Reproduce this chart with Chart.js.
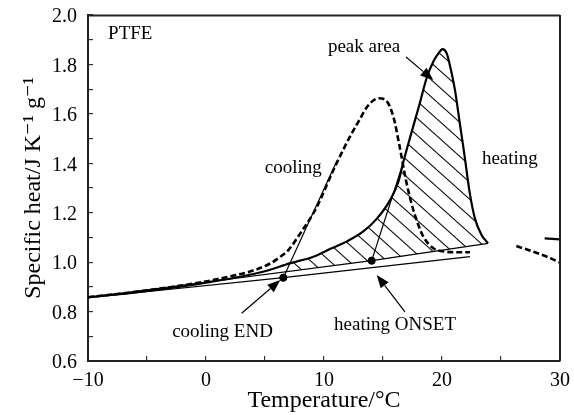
<!DOCTYPE html>
<html><head><meta charset="utf-8">
<script src="https://cdn.jsdelivr.net/npm/chart.js@4.4.0/dist/chart.umd.min.js"></script>
<style>html,body{margin:0;padding:0;background:#fff}#wrap{width:574px;height:415px}</style>
</head><body><div id="wrap"><canvas id="c" width="574" height="415"></canvas></div>
<script>
// ---- data (temperature in °C, specific heat in J K^-1 g^-1) ----
const heatT  = [-10,-6,-2,0,3,5,7.1,9.1,10.5,11.9,13.3,14.5,15.6,16.3,16.75,17.3,18.1,18.7,19.3,19.7,20.05,20.4,20.7,21.1,21.5,21.9,22.35,22.8,23.35,23.9];
const heatCp = [0.858,0.878,0.902,0.917,0.942,0.963,0.995,1.022,1.053,1.083,1.123,1.177,1.251,1.325,1.41,1.505,1.64,1.745,1.815,1.845,1.862,1.845,1.79,1.696,1.565,1.435,1.28,1.175,1.11,1.076];
const heatT2  = [28.7, 30];
const heatCp2 = [1.096, 1.092];
const coolT  = [-10,-6,-2,0,2,4,5.5,6.3,7.0,8.0,9.4,10.8,12.2,13.0,13.6,14.2,14.65,15.3,15.9,16.44,17.0,17.57,18.0,18.42,19.27,20.4,21.3,22.37];
const coolCp = [0.858,0.88,0.906,0.922,0.942,0.966,0.996,1.022,1.05,1.117,1.224,1.373,1.508,1.575,1.625,1.655,1.663,1.652,1.585,1.46,1.319,1.211,1.15,1.103,1.056,1.042,1.04,1.04];
const coolT2  = [26.3, 27.7, 28.9, 30];
const coolCp2 = [1.065, 1.043, 1.022, 0.998];
const heatBaseT  = [-10, 14.04, 23.9];
const heatBaseCp = [0.857, 1.006, 1.076];
const coolBaseT  = [-10, 6.55, 22.37];
const coolBaseCp = [0.856, 0.937, 1.022];
const coolTanT  = [6.55, 11.1];
const coolTanCp = [0.937, 1.41];
const heatTanT  = [14.04, 16.7];
const heatTanCp = [1.006, 1.40];
const markT  = [6.55, 14.04];
const markCp = [0.937, 1.006];
const hatchFrom = 7.1;

const xTicks = [-10, 0, 10, 20, 30];
const xTickText = ['\u221210', '0', '10', '20', '30'];
const yTicks = [0.6, 0.8, 1.0, 1.2, 1.4, 1.6, 1.8, 2.0];
const yTickText = ['0.6', '0.8', '1.0', '1.2', '1.4', '1.6', '1.8', '2.0'];

const notes = [
  {text: 'PTFE', x: -8.3, y: 1.925, align: 'left'},
  {text: 'peak area', x: 13.39, y: 1.87},
  {text: 'cooling', x: 7.4, y: 1.379},
  {text: 'heating', x: 25.75, y: 1.419},
  {text: 'cooling END', x: 1.4, y: 0.719},
  {text: 'heating ONSET', x: 16.02, y: 0.744}
];
const arrows = [
  {from: [16.95, 1.830], to: [19.26, 1.737]},
  {from: [3.02, 0.793], to: [6.3, 0.928]},
  {from: [16.86, 0.799], to: [14.47, 0.948]}
];

// ---- helpers ----
const pts = (xs, ys) => xs.map((x, i) => ({x: x, y: ys[i]}));
function lbl(list, text, v) {
  const i = list.findIndex(t => Math.abs(t - v) < 1e-6);
  return i >= 0 ? text[i] : '';
}
function hatchPattern() {
  const w = 19, h = 17;
  const c = document.createElement('canvas');
  c.width = w; c.height = h;
  const g = c.getContext('2d');
  g.strokeStyle = '#111'; g.lineWidth = 1.1;
  for (const k of [-1, 0, 1]) {
    g.beginPath(); g.moveTo(0, k * h); g.lineTo(w, (k + 1) * h); g.stroke();
  }
  return g.createPattern(c, 'repeat');
}

const SERIF = "'Liberation Serif', 'Times New Roman', 'DejaVu Serif', serif";
Chart.defaults.font.family = SERIF;
Chart.defaults.color = '#000';

const framePlugin = {
  id: 'frame',
  afterDraw(chart) {
    const {ctx, chartArea: a} = chart;
    ctx.save();
    ctx.strokeStyle = '#222'; ctx.lineWidth = 2;
    ctx.beginPath();
    ctx.moveTo(a.left, a.top + 0.5); ctx.lineTo(a.right, a.top + 0.5);
    ctx.moveTo(a.right, a.top); ctx.lineTo(a.right, a.bottom);
    ctx.stroke();
    ctx.restore();
  }
};

const notesPlugin = {
  id: 'notes',
  afterDatasetsDraw(chart) {
    const {ctx, scales: {x, y}} = chart;
    ctx.save();
    ctx.fillStyle = '#000'; ctx.strokeStyle = '#000';
    ctx.font = '19px ' + SERIF;
    ctx.textBaseline = 'middle';
    notes.forEach(n => {
      ctx.textAlign = n.align || 'center';
      ctx.fillText(n.text, x.getPixelForValue(n.x), y.getPixelForValue(n.y));
    });
    arrows.forEach(a => {
      const x1 = x.getPixelForValue(a.from[0]), y1 = y.getPixelForValue(a.from[1]);
      const x2 = x.getPixelForValue(a.to[0]), y2 = y.getPixelForValue(a.to[1]);
      const ang = Math.atan2(y2 - y1, x2 - x1), L = 13, W = 5;
      const bx = x2 - L * Math.cos(ang), by = y2 - L * Math.sin(ang);
      ctx.lineWidth = 1.2;
      ctx.beginPath(); ctx.moveTo(x1, y1); ctx.lineTo(bx, by); ctx.stroke();
      ctx.beginPath(); ctx.moveTo(x2, y2);
      ctx.lineTo(bx - W * Math.sin(ang), by + W * Math.cos(ang));
      ctx.lineTo(bx + W * Math.sin(ang), by - W * Math.cos(ang));
      ctx.closePath(); ctx.fill();
    });
    ctx.restore();
  }
};

const lineBase = {pointRadius: 0, borderColor: '#000', fill: false, xAxisID: 'x', yAxisID: 'y'};
const heatPts = pts(heatT, heatCp);

new Chart(document.getElementById('c'), {
  type: 'line',
  data: {
    datasets: [
      Object.assign({}, lineBase, {label: 'heating', data: heatPts, borderWidth: 2.2, cubicInterpolationMode: 'monotone', order: 1}),
      Object.assign({}, lineBase, {label: 'heating (cont.)', data: pts(heatT2, heatCp2), borderWidth: 2.2, order: 1}),
      Object.assign({}, lineBase, {label: 'cooling', data: pts(coolT, coolCp), borderWidth: 2.6, borderDash: [6, 3], cubicInterpolationMode: 'monotone', order: 1}),
      Object.assign({}, lineBase, {label: 'cooling (cont.)', data: pts(coolT2, coolCp2), borderWidth: 2.6, borderDash: [6, 3], cubicInterpolationMode: 'monotone', order: 1}),
      Object.assign({}, lineBase, {label: 'heating baseline', data: pts(heatBaseT, heatBaseCp), borderWidth: 1.2, order: 2}),
      Object.assign({}, lineBase, {label: 'cooling baseline', data: pts(coolBaseT, coolBaseCp), borderWidth: 1.2, order: 2}),
      Object.assign({}, lineBase, {label: 'cooling tangent', data: pts(coolTanT, coolTanCp), borderWidth: 1.2, order: 2}),
      Object.assign({}, lineBase, {label: 'heating tangent', data: pts(heatTanT, heatTanCp), borderWidth: 1.2, order: 2}),
      Object.assign({}, lineBase, {label: 'peak area', data: heatPts.filter(p => p.x >= hatchFrom), borderWidth: 0, cubicInterpolationMode: 'monotone',
        fill: 4, backgroundColor: hatchPattern(), order: 3}),
      Object.assign({}, lineBase, {label: 'END / ONSET', data: pts(markT, markCp), showLine: false, pointRadius: 3.6,
        pointBackgroundColor: '#000', pointBorderColor: '#000', order: 0})
    ]
  },
  options: {
    responsive: false,
    animation: false,
    layout: {padding: {top: 15, right: 14, bottom: 0, left: 0}},
    plugins: {legend: {display: false}, tooltip: {enabled: false}},
    scales: {
      x: {
        type: 'linear', position: 'bottom', min: -10, max: 30,
        ticks: {stepSize: 5, padding: 13, autoSkip: false, maxRotation: 0, color: '#000', font: {size: 20},
          callback: v => lbl(xTicks, xTickText, v)},
        grid: {display: true, drawOnChartArea: false, drawTicks: true, tickLength: -5, color: '#333', lineWidth: 1.2},
        border: {display: true, color: '#222', width: 2},
        title: {display: true, text: 'Temperature/°C', font: {size: 24}, color: '#000', padding: {top: 0, bottom: 0}},
        afterFit: s => { s.height = 54; s.paddingLeft = 0; s.paddingRight = 0; }
      },
      y: {
        type: 'linear', position: 'left', min: 0.6, max: 2.0,
        ticks: {stepSize: 0.1, padding: 16, labelOffset: 2, autoSkip: false, color: '#000', font: {size: 20},
          callback: v => lbl(yTicks, yTickText, v)},
        grid: {display: true, drawOnChartArea: false, drawTicks: true, tickLength: -5, color: '#333', lineWidth: 1.2},
        border: {display: true, color: '#222', width: 2},
        title: {display: true, text: 'Specific heat/J K\u207B\u00B9 g\u207B\u00B9', font: {size: 24}, color: '#000', padding: {top: 19, bottom: 0}},
        afterFit: s => { s.width = 88; s.paddingTop = 0; s.paddingBottom = 0; }
      }
    }
  },
  plugins: [notesPlugin, framePlugin]
});
</script>
</body></html>
